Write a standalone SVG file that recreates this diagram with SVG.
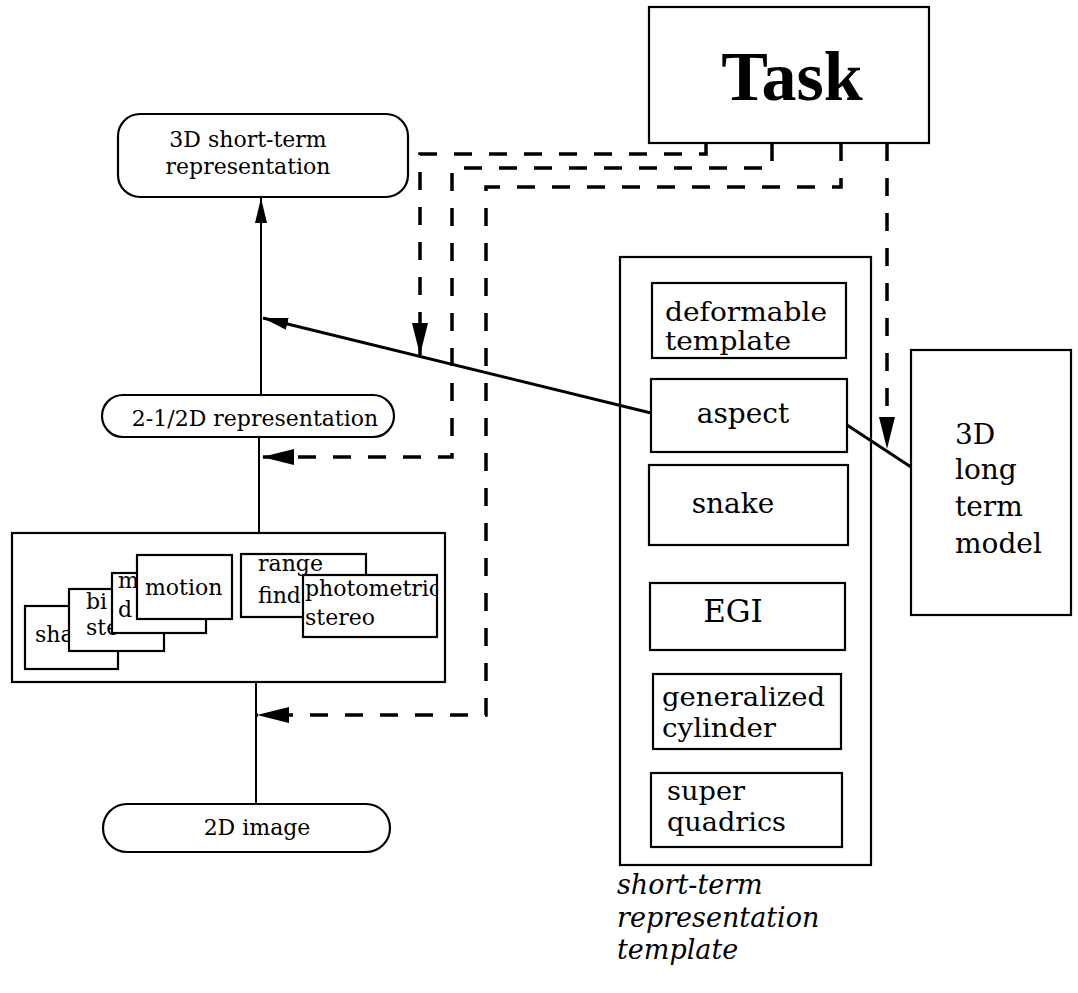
<svg xmlns="http://www.w3.org/2000/svg" width="1078" height="993" viewBox="0 0 1078 993">
  <style>
    .box { fill: #fff; stroke: #000; stroke-width: 2.2; }
    .frame { fill: none; stroke: #000; stroke-width: 2.2; }
    .lbl { font-family: "DejaVu Serif", "Liberation Serif", serif; fill: #000; }
    .s22 { font-size: 22px; }
    .s28 { font-size: 28px; }
    .s26 { font-size: 26px; }
    .cap { font-family: "DejaVu Serif", "Liberation Serif", serif; font-style: italic; font-size: 27px; fill: #000; }
    .solid { fill: none; stroke: #000; stroke-width: 2; }
    .slant { fill: none; stroke: #000; stroke-width: 3; }
    .dash { fill: none; stroke: #000; stroke-width: 3.5; stroke-dasharray: 18 17; }
  </style>
  <defs>
    <marker id="headDash" markerUnits="userSpaceOnUse" viewBox="0 0 32 16" refX="32" refY="8" markerWidth="32" markerHeight="16" orient="auto">
      <path d="M0,0 L32,8 L0,16 z" fill="#000"/>
    </marker>
    <marker id="headSolid" markerUnits="userSpaceOnUse" viewBox="0 0 25 12" refX="25" refY="6" markerWidth="25" markerHeight="12" orient="auto">
      <path d="M0,0 L25,6 L0,12 z" fill="#000"/>
    </marker>
    <clipPath id="clipPhoto"><rect x="303" y="575" width="134" height="62"/></clipPath>
    <clipPath id="clipRange"><rect x="241" y="554" width="125" height="63"/></clipPath>
  </defs>

  <rect width="1078" height="993" fill="#fff"/>

  <!-- outer frame of the template column (drawn first, unfilled) -->
  <rect class="frame" x="620" y="257" width="251" height="608"/>

  <!-- connectors -->
  <g id="connectors">
    <path class="solid" d="M261,395 V198" marker-end="url(#headSolid)"/>
    <path class="solid" d="M259,437 V533"/>
    <path class="solid" d="M256,682 V804"/>
    <path class="slant" d="M651,413 L263,318" marker-end="url(#headSolid)"/>
    <path class="slant" d="M847,425 L911,467"/>
    <path class="dash" d="M706,143 V154 H420 V355" marker-end="url(#headDash)"/>
    <path class="dash" d="M772,143 V168 H452 V457 H262" marker-end="url(#headDash)"/>
    <path class="dash" d="M841,143 V187 H486 V715 H257" marker-end="url(#headDash)"/>
    <path class="dash" d="M887,143 V449" marker-end="url(#headDash)"/>
  </g>

  <!-- task -->
  <g id="task">
    <rect class="box" x="649" y="7" width="280" height="136"/>
    <text x="792" y="100" text-anchor="middle" font-family="'Liberation Serif', serif" font-weight="bold" font-size="70">Task</text>
  </g>

  <!-- left processing chain -->
  <g id="rep3d">
    <rect class="box" x="118" y="114" width="290" height="83" rx="22"/>
    <text class="lbl s22" x="248" y="147" text-anchor="middle">3D short-term</text>
    <text class="lbl s22" x="248" y="174" text-anchor="middle">representation</text>
  </g>
  <g id="rep25d">
    <rect class="box" x="102" y="395" width="292" height="42" rx="21"/>
    <text class="lbl s22" x="255" y="426" text-anchor="middle">2-1/2D representation</text>
  </g>
  <g id="image2d">
    <rect class="box" x="103" y="804" width="287" height="48" rx="24"/>
    <text class="lbl s22" x="257" y="835" text-anchor="middle">2D image</text>
  </g>

  <!-- shape-from modules, stacked cards -->
  <g id="modules">
    <rect class="box" x="12" y="533" width="433" height="149"/>
    <g id="mod-shape">
      <rect class="box" x="25" y="606" width="93" height="63"/>
      <text class="lbl s22" x="35" y="642">sha</text>
    </g>
    <g id="mod-binocular">
      <rect class="box" x="69" y="589" width="95" height="62"/>
      <text class="lbl s22" x="86" y="609">bi</text>
      <text class="lbl s22" x="86" y="635">ste</text>
    </g>
    <g id="mod-md">
      <rect class="box" x="112" y="573" width="94" height="60"/>
      <text class="lbl s22" x="118" y="588">m</text>
      <text class="lbl s22" x="118" y="617">d</text>
    </g>
    <g id="mod-motion">
      <rect class="box" x="137" y="555" width="95" height="64"/>
      <text class="lbl s22" x="145" y="595">motion</text>
    </g>
    <g id="mod-range">
      <rect class="box" x="241" y="554" width="125" height="63"/>
      <g clip-path="url(#clipRange)">
        <text class="lbl s22" x="258" y="571">range</text>
        <text class="lbl s22" x="258" y="603">find</text>
      </g>
    </g>
    <g id="mod-photometric">
      <rect class="box" x="303" y="575" width="134" height="62"/>
      <g clip-path="url(#clipPhoto)">
        <text class="lbl s22" x="305" y="596">photometric</text>
        <text class="lbl s22" x="305" y="625">stereo</text>
      </g>
    </g>
  </g>

  <!-- template column -->
  <g id="templates">
    <g id="tpl-deformable">
      <rect class="box" x="652" y="283" width="194" height="75"/>
      <text class="lbl s26" x="665" y="321" textLength="162" lengthAdjust="spacingAndGlyphs">deformable</text>
      <text class="lbl s26" x="665" y="350" textLength="126" lengthAdjust="spacingAndGlyphs">template</text>
    </g>
    <g id="tpl-aspect">
      <rect class="box" x="651" y="379" width="196" height="73"/>
      <text class="lbl s28" x="743" y="423" text-anchor="middle">aspect</text>
    </g>
    <g id="tpl-snake">
      <rect class="box" x="649" y="465" width="199" height="80"/>
      <text class="lbl s28" x="733" y="513" text-anchor="middle">snake</text>
    </g>
    <g id="tpl-egi">
      <rect class="box" x="650" y="583" width="195" height="67"/>
      <text class="lbl" font-size="31" x="733" y="622" text-anchor="middle">EGI</text>
    </g>
    <g id="tpl-gc">
      <rect class="box" x="653" y="674" width="188" height="75"/>
      <text class="lbl s26" x="662" y="706" textLength="163" lengthAdjust="spacingAndGlyphs">generalized</text>
      <text class="lbl s26" x="662" y="737" textLength="114" lengthAdjust="spacingAndGlyphs">cylinder</text>
    </g>
    <g id="tpl-sq">
      <rect class="box" x="651" y="773" width="191" height="74"/>
      <text class="lbl s26" x="667" y="800" textLength="78" lengthAdjust="spacingAndGlyphs">super</text>
      <text class="lbl s26" x="667" y="831" textLength="119" lengthAdjust="spacingAndGlyphs">quadrics</text>
    </g>
    <text class="cap" x="617" y="894">short-term</text>
    <text class="cap" x="617" y="927">representation</text>
    <text class="cap" x="617" y="959">template</text>
  </g>

  <!-- long-term model -->
  <g id="model3d">
    <rect class="box" x="911" y="350" width="160" height="265"/>
    <text class="lbl s28" x="955" y="444">3D</text>
    <text class="lbl s28" x="955" y="479">long</text>
    <text class="lbl s28" x="955" y="516">term</text>
    <text class="lbl s28" x="955" y="553">model</text>
  </g>
</svg>
